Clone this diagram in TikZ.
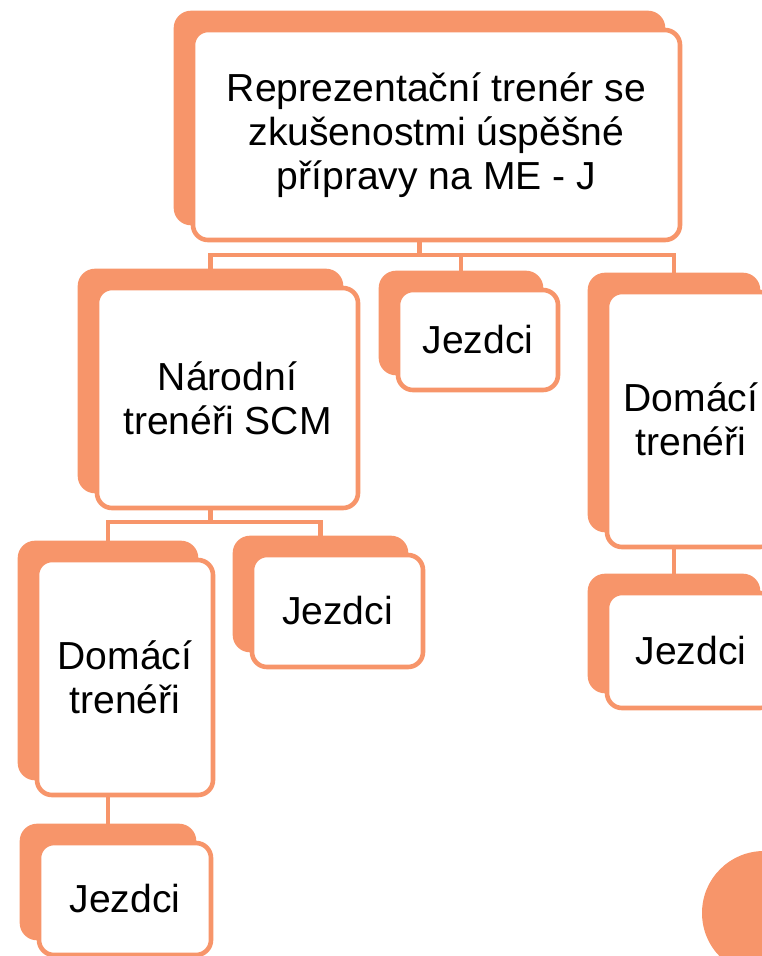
\documentclass[tikz,border=0pt]{standalone}
\usepackage{fontspec}
\setmainfont{Liberation Sans}
\usetikzlibrary{calc}
\definecolor{orgc}{HTML}{F7956A}
\tikzset{
  backbox/.style={draw=orgc, fill=orgc, rounded corners=0.375cm, line width=0.115cm, inner sep=0pt},
  frontbox/.style={draw=orgc, fill=white, rounded corners=0.375cm, line width=0.115cm, inner sep=0pt, align=center, font=\fontsize{27.8}{31.5}\selectfont, text=black},
  link/.style={draw=orgc, line width=0.115cm}
}
% name, x, y, width, height, text (pixel units)
\newcommand{\orgbox}[6]{ \node[backbox, minimum width=#4*0.025cm, minimum height=#5*0.025cm] (#1b) at (#2-17, #3-17) {}; \node[frontbox, minimum width=#4*0.025cm, minimum height=#5*0.025cm] (#1) at (#2, #3) {#6};}

\begin{document}
\begin{tikzpicture}[x=0.025cm, y=-0.025cm]
        \useasboundingbox (0,0) rectangle (762,956);
        \clip (0,0) rectangle (762,956);
        % corner disc
        \fill[orgc] (764,913) circle[radius=62];
        % level1
        \orgbox{top}{436.5}{135}{487}{210}{Reprezentační trenér se\\zkušenostmi úspěšné\\přípravy na ME - J}
        % level2
        \orgbox{nar}{227.5}{398}{261}{220}{Národní\\trenéři SCM}
        \orgbox{jezA}{478}{340}{160}{100}{Jezdci}
        \orgbox{domA}{691}{419.5}{168}{255}{Domácí\\trenéři}
        % level3
        \orgbox{domB}{125}{677.5}{176}{235}{Domácí\\trenéři}
        \orgbox{jezB}{337.5}{611}{171}{112}{Jezdci}
        \orgbox{jezC}{691}{650.5}{168}{115}{Jezdci}
        % level4
        \orgbox{jezD}{125}{899}{172}{112}{Jezdci}

        % links
        \coordinate (busA) at (0,255);
        \coordinate (busB) at (0,522);
        \draw[link] (topb |- top.south) -- (topb |- busA) -| (narb.north);
        \draw[link] (topb |- busA) -| (jezAb.north);
        \draw[link] (topb |- busA) -| (domAb.north);
        \draw[link] (narb |- nar.south) -- (narb |- busB) -| (domBb.north);
        \draw[link] (narb |- busB) -| (jezBb.north);
        \draw[link] (domAb |- domA.south) -- (jezCb.north);
        \draw[link] (domBb |- domB.south) -- (jezDb.north);
\end{tikzpicture}
\end{document}
